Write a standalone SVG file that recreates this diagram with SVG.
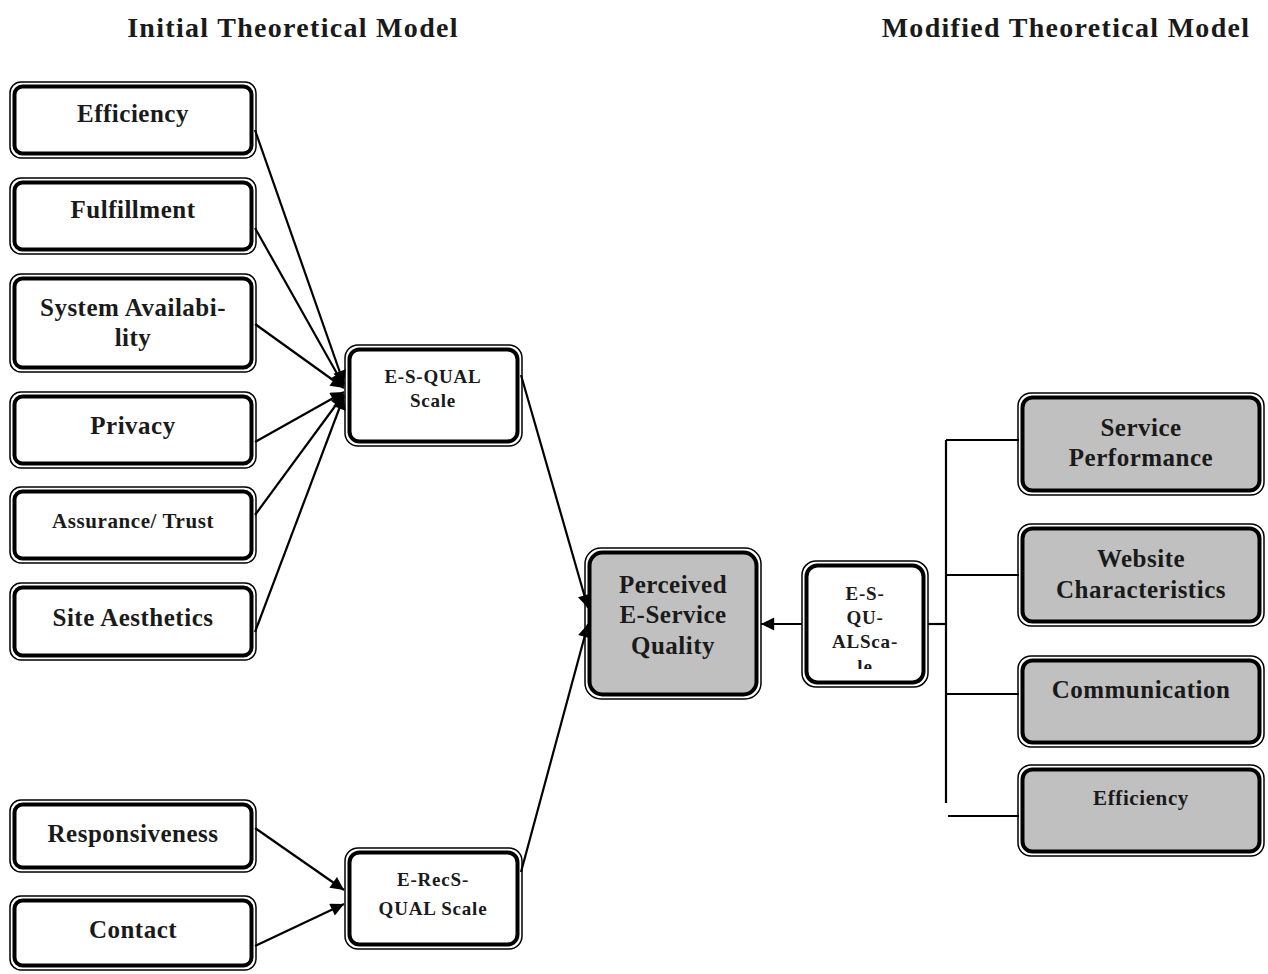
<svg xmlns="http://www.w3.org/2000/svg" width="1268" height="974" viewBox="0 0 1268 974">
<defs>
<style>
.o{fill:none;stroke:#000;stroke-width:1.5}
.i{fill:#fff;stroke:#000;stroke-width:4}
.g .i{fill:#c0c0c0}
text{font-family:"Liberation Serif","DejaVu Serif",serif;font-weight:bold;fill:#1a1a1a;text-anchor:middle}
.t{font-size:28px;letter-spacing:1.3px}
.l{font-size:25px;letter-spacing:0.5px}
.s{font-size:19px;letter-spacing:0.8px}
.c{stroke:#000;stroke-width:2.2;fill:none}
</style>
<marker id="a" viewBox="0 0 10 10" refX="10" refY="5" markerWidth="6.5" markerHeight="6" orient="auto" markerUnits="strokeWidth"><path d="M0,0L10,5L0,10z" fill="#000"/></marker>
<clipPath id="clipq"><rect x="806" y="565" width="118" height="104"/></clipPath>
</defs>
<rect width="1268" height="974" fill="#fff"/>
<text class="t" x="293" y="37">Initial Theoretical Model</text>
<text class="t" x="1066" y="37">Modified Theoretical Model</text>

<g id="connectors">
<line class="c" x1="255" y1="130" x2="344" y2="384" marker-end="url(#a)"/>
<line class="c" x1="255" y1="228" x2="344" y2="386" marker-end="url(#a)"/>
<line class="c" x1="255" y1="324" x2="344" y2="388" marker-end="url(#a)"/>
<line class="c" x1="255" y1="442" x2="344" y2="392" marker-end="url(#a)"/>
<line class="c" x1="255" y1="515" x2="344" y2="394" marker-end="url(#a)"/>
<line class="c" x1="255" y1="632" x2="344" y2="396" marker-end="url(#a)"/>
<line class="c" x1="521" y1="375" x2="588" y2="608" marker-end="url(#a)"/>
<line class="c" x1="521" y1="872" x2="588" y2="624" marker-end="url(#a)"/>
<line class="c" x1="255" y1="828" x2="344" y2="890" marker-end="url(#a)"/>
<line class="c" x1="255" y1="946" x2="344" y2="904" marker-end="url(#a)"/>
<line class="c" x1="802" y1="624" x2="761" y2="624" marker-end="url(#a)"/>
<line class="c" x1="928" y1="624" x2="946" y2="624"/>
<line class="c" x1="946" y1="440" x2="946" y2="803"/>
<line class="c" x1="946" y1="440" x2="1019" y2="440"/>
<line class="c" x1="946" y1="575" x2="1019" y2="575"/>
<line class="c" x1="946" y1="694" x2="1019" y2="694"/>
<line class="c" x1="948" y1="816" x2="1019" y2="816"/>
</g>

<g id="n-efficiency"><rect class="o" x="10" y="82" width="246" height="76" rx="11"/><rect class="i" x="14.5" y="86.5" width="237" height="67" rx="8"/><text class="l" x="133" y="122">Efficiency</text></g>
<g id="n-fulfillment"><rect class="o" x="10" y="178" width="246" height="76" rx="11"/><rect class="i" x="14.5" y="182.5" width="237" height="67" rx="8"/><text class="l" x="133" y="218">Fulfillment</text></g>
<g id="n-sysavail"><rect class="o" x="10" y="274" width="246" height="98" rx="11"/><rect class="i" x="14.5" y="278.5" width="237" height="89" rx="8"/><text class="l" x="133" y="316">System Availabi-</text><text class="l" x="133" y="346">lity</text></g>
<g id="n-privacy"><rect class="o" x="10" y="392" width="246" height="76" rx="11"/><rect class="i" x="14.5" y="396.5" width="237" height="67" rx="8"/><text class="l" x="133" y="434">Privacy</text></g>
<g id="n-assurance"><rect class="o" x="10" y="487" width="246" height="76" rx="11"/><rect class="i" x="14.5" y="491.5" width="237" height="67" rx="8"/><text x="133" y="528" style="font-size:21px;letter-spacing:0.6px">Assurance/ Trust</text></g>
<g id="n-aesthetics"><rect class="o" x="10" y="583" width="246" height="77" rx="11"/><rect class="i" x="14.5" y="587.5" width="237" height="68" rx="8"/><text class="l" x="133" y="626">Site Aesthetics</text></g>
<g id="n-responsiveness"><rect class="o" x="10" y="800" width="246" height="72" rx="11"/><rect class="i" x="14.5" y="804.5" width="237" height="63" rx="8"/><text class="l" x="133" y="842">Responsiveness</text></g>
<g id="n-contact"><rect class="o" x="10" y="896" width="246" height="74" rx="11"/><rect class="i" x="14.5" y="900.5" width="237" height="65" rx="8"/><text class="l" x="133" y="938">Contact</text></g>

<g id="n-esqual"><rect class="o" x="345" y="345" width="177" height="101" rx="13"/><rect class="i" x="349.5" y="349.5" width="168" height="92" rx="10"/><text class="s" x="433" y="383">E-S-QUAL</text><text class="s" x="433" y="407">Scale</text></g>
<g id="n-erecsqual"><rect class="o" x="345" y="848" width="177" height="101" rx="13"/><rect class="i" x="349.5" y="852.5" width="168" height="92" rx="10"/><text class="s" x="433" y="886">E-RecS-</text><text class="s" x="433" y="915">QUAL Scale</text></g>

<g id="n-perceived" class="g"><rect class="o" x="585" y="548" width="176" height="151" rx="16"/><rect class="i" x="589.5" y="552.5" width="167" height="142" rx="13"/><text class="l" x="673" y="593">Perceived</text><text class="l" x="673" y="623">E-Service</text><text class="l" x="673" y="654">Quality</text></g>

<g id="n-esqual2"><rect class="o" x="802" y="561" width="126" height="126" rx="14"/><rect class="i" x="806.5" y="565.5" width="117" height="117" rx="11"/><g clip-path="url(#clipq)"><text class="s" x="865" y="600">E-S-</text><text class="s" x="865" y="624">QU-</text><text class="s" x="865" y="648">ALSca-</text><text class="s" x="865" y="673">le</text></g></g>

<g id="n-serviceperf" class="g"><rect class="o" x="1018" y="393" width="246" height="102" rx="13"/><rect class="i" x="1022.5" y="397.5" width="237" height="93" rx="10"/><text class="l" x="1141" y="436">Service</text><text class="l" x="1141" y="466">Performance</text></g>
<g id="n-website" class="g"><rect class="o" x="1018" y="524" width="246" height="102" rx="13"/><rect class="i" x="1022.5" y="528.5" width="237" height="93" rx="10"/><text class="l" x="1141" y="567">Website</text><text class="l" x="1141" y="598">Characteristics</text></g>
<g id="n-communication" class="g"><rect class="o" x="1018" y="656" width="246" height="91" rx="13"/><rect class="i" x="1022.5" y="660.5" width="237" height="82" rx="10"/><text class="l" x="1141" y="698">Communication</text></g>
<g id="n-efficiency2" class="g"><rect class="o" x="1018" y="765" width="246" height="91" rx="13"/><rect class="i" x="1022.5" y="769.5" width="237" height="82" rx="10"/><text x="1141" y="805" style="font-size:21px;letter-spacing:0.6px">Efficiency</text></g>
</svg>
